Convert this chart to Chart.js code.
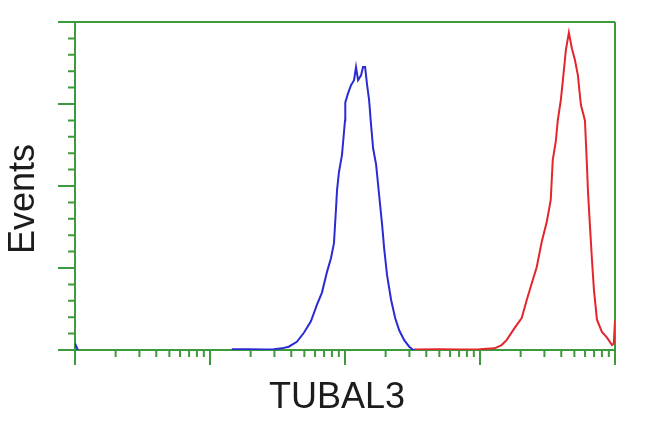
<!DOCTYPE html>
<html>
<head>
<meta charset="utf-8">
<style>
  html, body { margin: 0; padding: 0; background: #ffffff; }
  #wrap { width: 650px; height: 432px; position: relative; }
</style>
<script src="https://cdn.jsdelivr.net/npm/chart.js@4/dist/chart.umd.min.js"></script>
</head>
<body>
<div id="wrap"><canvas id="c" width="650" height="432"></canvas></div>
<script>
// ---- data ----
const xTitle = 'TUBAL3';
const yTitle = 'Events';

// x: fluorescence intensity (log scale), y: event counts (null = no events drawn)
const blueX = [1, 1.05, 1.1, 14.5, 19.3, 25, 29.7, 34, 38.3, 44, 49.6, 55.9, 61.9, 67.5, 73.5, 78.7, 82.8, 85.7, 87.3, 90.2, 95, 100, 100.5, 105.3, 110.8, 116.7, 120.7, 125, 131.5, 136, 140.9, 145.8, 150.8, 156.1, 161.5, 170, 179, 188.5, 195, 205, 219.6, 235.3, 252, 274.6, 299, 320.5, 330];
const blueY = [8, 0, null, 1, 1, 0.5, 1, 2, 4, 10, 21, 35, 55, 70, 95, 112, 130, 171, 195, 217, 238, 280, 302, 313, 323, 329, 345, 329, 335, 345, 345, 323, 305, 274, 246, 226, 189, 152, 124, 91, 61, 39, 24, 12, 4, 0, 0];

const redX = [326, 500, 704, 991, 1282, 1445, 1574, 1806, 2036, 2219, 2456, 2630, 2866, 3121, 3342, 3459, 3640, 3768, 3972, 4180, 4328, 4553, 4790, 5045, 5310, 5588, 5988, 6195, 6300, 6520, 6750, 6985, 7350, 8000, 8725, 9500, 9800, 10000];
const redY = [0.5, 1, 0.5, 1, 2, 6, 12, 27, 39, 61, 85, 101, 132, 156, 183, 232, 254, 280, 305, 341, 366, 387, 368, 354, 335, 299, 280, 226, 195, 152, 110, 73, 37, 22, 15, 6, 8, 36];

const xMajorTicks = [1, 10, 100, 1000, 10000];
const xMinorTicks = [];
for (const d of [1, 10, 100, 1000]) for (let m = 2; m <= 9; m++) xMinorTicks.push(d * m);
const yMajorTicks = [0, 100, 200, 300, 400];
const yMinorTicks = [];
for (let v = 20; v < 400; v += 20) if (v % 100 !== 0) yMinorTicks.push(v);

// ---- styles ----
const GREEN = '#3c9a3c';
const BLUE = '#2b2bd4';
const RED = '#e2262b';
const TEXT = '#1c1c1c';

const toPts = (xs, ys) => xs.map((x, i) => ({ x: x, y: ys[i] }));

const framePlugin = {
  id: 'frame',
  beforeDatasetsDraw(chart) {
    const { ctx, chartArea: a, scales: { x, y } } = chart;
    ctx.save();
    ctx.strokeStyle = GREEN;
    ctx.lineWidth = 2;
    ctx.lineCap = 'butt';
    ctx.beginPath();
    // frame
    ctx.moveTo(a.left, a.top); ctx.lineTo(a.right, a.top);
    ctx.moveTo(a.right, a.top); ctx.lineTo(a.right, a.bottom);
    ctx.moveTo(a.left, a.top - 1); ctx.lineTo(a.left, a.bottom + 1);
    ctx.moveTo(a.left, a.bottom); ctx.lineTo(a.right + 1, a.bottom);
    // y ticks
    for (const v of yMajorTicks) {
      const py = y.getPixelForValue(v);
      ctx.moveTo(a.left - 17, py); ctx.lineTo(a.left, py);
    }
    for (const v of yMinorTicks) {
      const py = y.getPixelForValue(v);
      ctx.moveTo(a.left - 7, py); ctx.lineTo(a.left, py);
    }
    // x ticks
    for (const v of xMajorTicks) {
      const px = x.getPixelForValue(v);
      ctx.moveTo(px, a.bottom); ctx.lineTo(px, a.bottom + 15);
    }
    for (const v of xMinorTicks) {
      const px = x.getPixelForValue(v);
      ctx.moveTo(px, a.bottom); ctx.lineTo(px, a.bottom + 7);
    }
    ctx.stroke();
    ctx.restore();
  },
  afterDraw(chart) {
    const { ctx } = chart;
    ctx.save();
    ctx.fillStyle = TEXT;
    ctx.font = '36px "Liberation Sans", Arial, sans-serif';
    ctx.textAlign = 'center';
    ctx.textBaseline = 'middle';
    ctx.fillText(xTitle, 337, 398);
    ctx.translate(24, 199);
    ctx.rotate(-Math.PI / 2);
    ctx.fillText(yTitle, 0, 0);
    ctx.restore();
  }
};

new Chart(document.getElementById('c'), {
  type: 'line',
  data: {
    datasets: [
      { data: toPts(blueX, blueY), borderColor: BLUE, borderWidth: 2, pointRadius: 0, tension: 0, fill: false, spanGaps: false },
      { data: toPts(redX, redY), borderColor: RED, borderWidth: 2, pointRadius: 0, tension: 0, fill: false }
    ]
  },
  options: {
    responsive: false,
    animation: false,
    events: [],
    layout: { padding: { left: 75, top: 22, right: 35, bottom: 82 } },
    plugins: { legend: { display: false }, tooltip: { enabled: false } },
    scales: {
      x: { type: 'logarithmic', min: 1, max: 10000, display: false },
      y: { type: 'linear', min: 0, max: 400, display: false }
    }
  },
  plugins: [framePlugin]
});
</script>
</body>
</html>
